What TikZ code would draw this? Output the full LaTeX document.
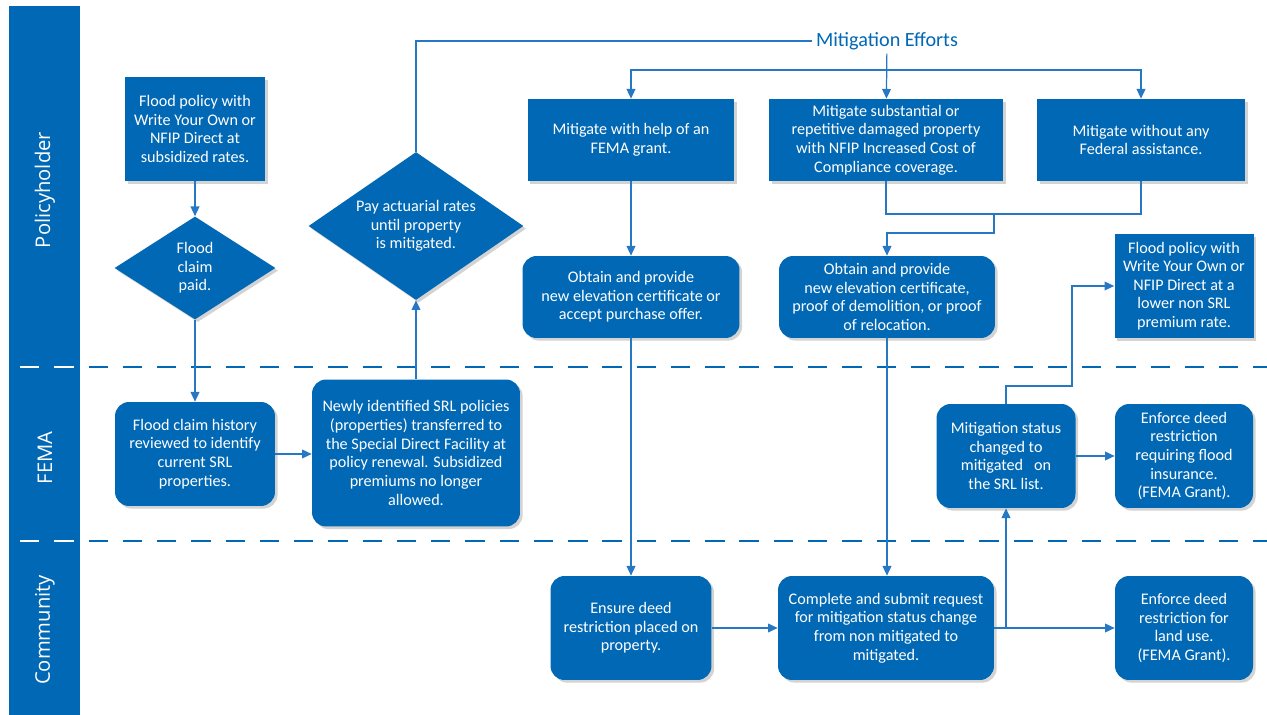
\documentclass[tikz,border=0pt]{standalone}
\usepackage{fontspec}
\setmainfont{Carlito}
\newfontfamily\lanefont{Open Sans}
\usetikzlibrary{arrows.meta}
\usetikzlibrary{positioning}
\usetikzlibrary{shapes.geometric}
\usetikzlibrary{shadows}
\definecolor{femablue}{RGB}{0,104,180}
\definecolor{linkblue}{RGB}{38,120,196}

\begin{document}
\begin{tikzpicture}[x=0.02cm,y=-0.02cm,->,>={Triangle[length=5.5pt,width=5pt]}]
			\tikzset{box/.style = {shape=rectangle, fill=femablue, text=white, align=center, inner sep=1pt, font=\fontsize{9.2}{10.6}\selectfont, drop shadow={shadow xshift=1.5pt, shadow yshift=-1.5pt, opacity=.35}},
				roundbox/.style = {box, rounded corners=8pt},
				choice/.style = {box, shape=diamond, inner sep=0pt},
				link/.style = {draw=linkblue, line width=0.7pt},
				lane/.style = {dash pattern=on 11pt off 8.5pt, line width=1.7pt},
				lanename/.style = {rotate=90, text=white, font=\lanefont\fontsize{11.5}{13}\selectfont}}
			
			\useasboundingbox (0,0) rectangle (1267,715);
			\fill[femablue] (9,6) rectangle (80,715);
			\draw[-,lane,femablue] (20,367) -- (1267,367);
			\draw[-,lane,white] (20,367) -- (80,367);
			\draw[-,lane,femablue] (20,541) -- (1267,541);
			\draw[-,lane,white] (20,541) -- (80,541);
			
			\node[lanename] (LPOLICY) at (45,190) {Policyholder};
			\node[lanename] (LFEMA) at (45,458) {FEMA};
			\node[lanename] (LCOMMUNITY) at (45,630) {Community};
			
			\node[box, minimum width=2.8cm, minimum height=2.08cm] (POLICY) at (195,129)
			{Flood policy with\\Write Your Own or\\NFIP Direct at\\subsidized rates.};
			\node[choice, aspect=1.56, minimum width=3.22cm, minimum height=2.06cm] (CLAIM) at (195,268)
			{Flood\\claim\\paid.};
			\node[choice, aspect=1.45, minimum width=4.3cm, minimum height=2.96cm] (ACTUARIAL) at (416,226)
			{Pay actuarial rates\\until property\\is mitigated.};
			\node[text=femablue, font=\fontsize{11.5}{13}\selectfont, inner sep=2pt] (MITEFF) at (887,41) {Mitigation Efforts};
			\node[box, minimum width=4.14cm, minimum height=1.64cm] (GRANT) at (631,140)
			{Mitigate with help of an\\FEMA grant.};
			\node[box, minimum width=4.68cm, minimum height=1.64cm] (ICC) at (886,140)
			{Mitigate substantial or\\repetitive damaged property\\with NFIP Increased Cost of\\Compliance coverage.};
			\node[box, minimum width=4.16cm, minimum height=1.64cm] (NOAID) at (1141,140)
			{Mitigate without any\\Federal assistance.};
			\node[roundbox, minimum width=4.34cm, minimum height=1.64cm] (OBTAINA) at (631,297)
			{Obtain and provide\\new elevation certificate or\\accept purchase offer.};
			\node[roundbox, minimum width=4.32cm, minimum height=1.64cm] (OBTAINB) at (887,297)
			{Obtain and provide\\new elevation certificate,\\proof of demolition, or proof\\of relocation.};
			\node[box, minimum width=2.78cm, minimum height=2.08cm] (NEWPOLICY) at (1184,286)
			{Flood policy with\\Write Your Own or\\NFIP Direct at a\\lower non SRL\\premium rate.};
			
			\node[roundbox, minimum width=3.2cm, minimum height=2.08cm] (HISTORY) at (195,454)
			{Flood claim history\\reviewed to identify\\current SRL\\properties.};
			\node[roundbox, minimum width=4.16cm, minimum height=2.94cm] (TRANSFER) at (416,453)
			{Newly identified SRL policies\\(properties) transferred to\\the Special Direct Facility at\\policy renewal. Subsidized\\premiums no longer\\allowed.};
			\node[roundbox, minimum width=2.78cm, minimum height=2.08cm] (STATUS) at (1006,456)
			{Mitigation status\\changed to\\mitigated~~~on\\the SRL list.};
			\node[roundbox, minimum width=2.76cm, minimum height=2.08cm] (ENFORCEINS) at (1184,456)
			{Enforce deed\\restriction\\requiring flood\\insurance.\\(FEMA Grant).};
			
			\node[roundbox, minimum width=3.22cm, minimum height=2.08cm] (DEED) at (631,628)
			{Ensure deed\\restriction placed on\\property.};
			\node[roundbox, minimum width=4.32cm, minimum height=2.08cm] (REQUEST) at (886,628)
			{Complete and submit request\\for mitigation status change\\from non mitigated to\\mitigated.};
			\node[roundbox, minimum width=2.76cm, minimum height=2.08cm] (ENFORCELAND) at (1184,628)
			{Enforce deed\\restriction for\\land use.\\(FEMA Grant).};
			
			\coordinate (BRANCH) at (887,70);
			\coordinate (JOIN) at (994,214);
			\coordinate (TAP) at (1006,628);
			\coordinate (ELBOW) at (1072,386);
			
			\draw[link] (POLICY) -- (CLAIM);
			\draw[link] (CLAIM) -- (HISTORY);
			\draw[link] (HISTORY) -- (TRANSFER.west |- HISTORY);
			\draw[link] (TRANSFER) -- (ACTUARIAL);
			\draw[link,-] (ACTUARIAL.north) |- (MITEFF.west);
			\draw[link] (MITEFF) -- (ICC);
			\draw[link] (BRANCH) -| (GRANT);
			\draw[link] (BRANCH) -| (NOAID);
			\draw[link,-] (ICC.south) |- (JOIN);
			\draw[link,-] (NOAID.south) |- (JOIN);
			\draw[link] (JOIN) -- ++(0,19) -| (OBTAINB);
			\draw[link] (GRANT) -- (OBTAINA);
			\draw[link] (OBTAINA) -- (DEED);
			\draw[link] (OBTAINB.south) -- (OBTAINB.south |- REQUEST.north);
			\draw[link] (DEED) -- (REQUEST);
			\draw[link] (REQUEST) -- (ENFORCELAND);
			\draw[link] (TAP) -- (STATUS);
			\draw[link] (STATUS) -- (ENFORCEINS);
			\draw[link] (STATUS.north) |- (ELBOW) |- (NEWPOLICY.west);
			
			\end{tikzpicture}
\end{document}
